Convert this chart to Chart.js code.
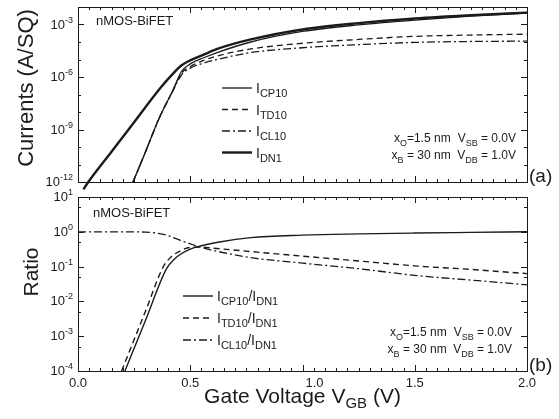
<!DOCTYPE html>
<html>
<head>
<meta charset="utf-8">
<title>nMOS-BiFET currents and ratios</title>
<script src="https://cdn.jsdelivr.net/npm/chart.js@4.4.1/dist/chart.umd.min.js"></script>
<style>
  body { margin: 0; background: #fff; }
  .fig { position: relative; width: 559px; height: 419px; }
  .fig canvas { position: absolute; left: 0; top: 0; }
</style>
</head>
<body>
<div class="fig">
  <canvas id="chart-a" width="559" height="419"></canvas>
  <canvas id="chart-b" width="559" height="419"></canvas>
</div>
<script>
// --- Panel (a): currents (A/SQ) vs gate voltage ---
const vDN1 = [0.024, 0.046, 0.15, 0.25, 0.365, 0.42, 0.46, 0.5, 0.56, 0.62, 0.77, 1.0, 1.25, 1.5, 1.75, 2.0];
const iDN1 = [3.8e-13, 1e-12, 5.5e-11, 2.6e-9, 2.2e-7, 1.4e-6, 4.5e-6, 8.9e-6, 1.9e-5, 4.0e-5, 1.4e-4, 5.2e-4, 1.2e-3, 2.2e-3, 3.4e-3, 4.8e-3];
const vDev = [0.245, 0.30, 0.36, 0.425, 0.46, 0.5, 0.56, 0.62, 0.77, 1.0, 1.25, 1.5, 1.75, 2.0];
const iCP10 = [1e-12, 5.0e-11, 4.0e-9, 2.0e-7, 2.0e-6, 5.6e-6, 1.26e-5, 2.5e-5, 1.0e-4, 4.0e-4, 9.5e-4, 1.8e-3, 3.0e-3, 4.5e-3];
const iTD10 = [1e-12, 5.0e-11, 4.0e-9, 2.0e-7, 1.6e-6, 4.0e-6, 8.9e-6, 1.6e-5, 4.0e-5, 8.5e-5, 1.4e-4, 2.1e-4, 2.5e-4, 2.8e-4];
const iCL10 = [1e-12, 5.0e-11, 4.0e-9, 1.8e-7, 1.26e-6, 3.2e-6, 6.3e-6, 1.0e-5, 2.5e-5, 4.7e-5, 7.1e-5, 9.5e-5, 1.07e-4, 1.12e-4];

// --- Panel (b): ratios to I_DN1 ---
const vRCP = [0.209, 0.30, 0.395, 0.43, 0.46, 0.5, 0.53, 0.63, 0.77, 1.0, 1.25, 1.5, 1.75, 2.0];
const rCP = [1e-4, 2.8e-3, 0.089, 0.166, 0.234, 0.316, 0.37, 0.51, 0.68, 0.8, 0.87, 0.92, 0.96, 1.0];
const vRTD = [0.194, 0.30, 0.38, 0.41, 0.44, 0.5, 0.55, 0.6, 0.77, 1.0, 1.25, 1.5, 1.75, 2.0];
const rTD = [1e-4, 5.1e-3, 0.1, 0.178, 0.25, 0.355, 0.363, 0.34, 0.27, 0.2, 0.145, 0.105, 0.083, 0.063];
const vRCL = [0.0, 0.2, 0.3, 0.35, 0.4, 0.454, 0.5, 0.56, 0.65, 0.77, 1.0, 1.25, 1.5, 1.75, 2.0];
const rCL = [1.0, 1.0, 0.98, 0.91, 0.78, 0.575, 0.45, 0.34, 0.25, 0.18, 0.126, 0.087, 0.056, 0.041, 0.03];

// tick labels
const xTickLabels = ['0.0', '0.5', '1.0', '1.5', '2.0'];
const aTickExp = [-12, -9, -6, -3];
const bTickExp = [-4, -3, -2, -1, 0, 1];
const aLegend = ['CP10', 'TD10', 'CL10', 'DN1'];
const bLegend = ['CP10', 'TD10', 'CL10'];

const FONT = '"Liberation Sans", Arial, sans-serif';
const INK = '#1b1b1b';
const DASH = [6, 4];
const DASHDOT = [8, 3, 2, 3];

const pts = (xs, ys) => xs.map((x, i) => ({ x, y: ys[i] }));

// draw a run of text pieces: [text, size, dy]
function rich(ctx, parts, x, y, align) {
    let w = 0;
    parts.forEach(p => { ctx.font = p[1] + 'px ' + FONT; w += ctx.measureText(p[0]).width; });
    let cx = align === 'right' ? x - w : align === 'center' ? x - w / 2 : x;
    parts.forEach(p => {
        ctx.font = p[1] + 'px ' + FONT;
        ctx.fillText(p[0], cx, y + (p[2] || 0));
        cx += ctx.measureText(p[0]).width;
    });
    return w;
}

function frameAndTicks(chart, yTicks) {
    const { ctx, chartArea: a, scales: { x, y } } = chart;
    ctx.strokeStyle = INK;
    ctx.lineWidth = 1;
    ctx.strokeRect(a.left + 0.5, a.top + 0.5, a.right - a.left, a.bottom - a.top);
    ctx.beginPath();
    for (let i = 0; i <= 40; i++) {
        const px = Math.round(x.getPixelForValue(i * 0.05)) + 0.5;
        const len = i % 10 === 0 ? 6 : 3;
        ctx.moveTo(px, a.bottom); ctx.lineTo(px, a.bottom - len);
        ctx.moveTo(px, a.top); ctx.lineTo(px, a.top + len);
    }
    yTicks.forEach(([v, major]) => {
        const py = Math.round(y.getPixelForValue(v)) + 0.5;
        const len = major ? 6 : 3;
        ctx.moveTo(a.left, py); ctx.lineTo(a.left + len, py);
        ctx.moveTo(a.right, py); ctx.lineTo(a.right - len, py);
    });
    ctx.stroke();
}

function expLabels(chart, exps) {
    const { ctx, chartArea: a, scales: { y } } = chart;
    exps.forEach(e => {
        const py = y.getPixelForValue(Math.pow(10, e));
        rich(ctx, [['10', 13], [String(e), 9, -6]], a.left - 5, py + 4, 'right');
    });
}

function legendLines(chart, x0, y0, step, labels, suffix) {
    const { ctx } = chart;
    chart.data.datasets.forEach((ds, i) => {
        const yy = y0 + i * step;
        ctx.save();
        ctx.strokeStyle = ds.borderColor;
        ctx.lineWidth = ds.borderWidth;
        ctx.setLineDash(ds.borderDash || []);
        ctx.beginPath();
        ctx.moveTo(x0, yy); ctx.lineTo(x0 + 30, yy);
        ctx.stroke();
        ctx.restore();
        const parts = [['I', 14], [labels[i], 11, 4]];
        if (suffix) parts.push(['/', 14], ['I', 14], ['DN1', 11, 4]);
        rich(ctx, parts, x0 + 34, yy + 5, 'left');
    });
}

// device conditions block, right edge of the V column at xr
function conditions(ctx, xr, y) {
    const f = 12, s = 9;
    const w1 = rich(ctx, [['V', f], ['SB', s, 4], [' = 0.0V', f]], xr, y, 'right');
    rich(ctx, [['V', f], ['DB', s, 4], [' = 1.0V', f]], xr, y + 17, 'right');
    const xl = xr - w1 - 7;
    rich(ctx, [['x', f], ['O', s, 4], ['=1.5 nm', f]], xl, y, 'right');
    rich(ctx, [['x', f], ['B', s, 4], [' = 30 nm', f]], xl, y + 17, 'right');
}

const decoA = {
    id: 'decoA',
    afterDatasetsDraw(chart) {
        const { ctx, chartArea: a } = chart;
        ctx.save();
        ctx.fillStyle = INK;
        const yt = [];
        for (let e = -12; e <= -2; e++) yt.push([Math.pow(10, e), aTickExp.includes(e)]);
        frameAndTicks(chart, yt);
        expLabels(chart, aTickExp);
        rich(ctx, [['nMOS-BiFET', 13]], a.left + 18, a.top + 18, 'left');
        legendLines(chart, 222, 88, 21.5, aLegend, false);
        conditions(ctx, 516, 142);
        rich(ctx, [['(a)', 19]], a.right + 2, 182, 'left');
        // y title
        ctx.save();
        ctx.translate(33, 88);
        ctx.rotate(-Math.PI / 2);
        rich(ctx, [['Currents (A/SQ)', 22]], 0, 0, 'center');
        ctx.restore();
        ctx.restore();
    }
};

const decoB = {
    id: 'decoB',
    afterDatasetsDraw(chart) {
        const { ctx, chartArea: a, scales: { x } } = chart;
        ctx.save();
        ctx.fillStyle = INK;
        const yt = [];
        for (let e = -4; e <= 1; e++) {
            yt.push([Math.pow(10, e), true]);
            if (e < 1) yt.push([5 * Math.pow(10, e), false]);
        }
        frameAndTicks(chart, yt);
        expLabels(chart, bTickExp);
        xTickLabels.forEach((t, i) => {
            const px = x.getPixelForValue(i * 0.5) + (t === '1.0' ? 12 : 0);
            rich(ctx, [[t, 13]], px, a.bottom + 16, 'center');
        });
        rich(ctx, [['nMOS-BiFET', 13]], a.left + 15, a.top + 20, 'left');
        legendLines(chart, 183, 296, 22, bLegend, true);
        conditions(ctx, 512, 336);
        rich(ctx, [['(b)', 19]], a.right + 2, 371, 'left');
        rich(ctx, [['Gate Voltage V', 21], ['GB', 15, 5], [' (V)', 21]], (a.left + a.right) / 2, 403, 'center');
        ctx.save();
        ctx.translate(38, 272);
        ctx.rotate(-Math.PI / 2);
        rich(ctx, [['Ratio', 21]], 0, 0, 'center');
        ctx.restore();
        ctx.restore();
    }
};

function line(data, width, dash, clip) {
    return {
        data, borderColor: INK, borderWidth: width, borderDash: dash,
        pointRadius: 0, fill: false, cubicInterpolationMode: 'monotone',
        clip: clip === false ? false : undefined
    };
}

function options(yMin, yMax, padding) {
    return {
        responsive: false,
        animation: false,
        layout: { padding },
        plugins: { legend: { display: false }, tooltip: { enabled: false } },
        scales: {
            x: { type: 'linear', min: 0, max: 2, display: false },
            y: { type: 'logarithmic', min: yMin, max: yMax, display: false }
        }
    };
}

new Chart(document.getElementById('chart-a'), {
    type: 'line',
    data: {
        datasets: [
            line(pts(vDev, iCP10), 1.3, []),
            line(pts(vDev, iTD10), 1.3, DASH),
            line(pts(vDev, iCL10), 1.3, DASHDOT),
            line(pts(vDN1, iDN1), 2.4, [], false)
        ]
    },
    options: options(1e-12, 1e-2, { left: 78, top: 7, right: 32, bottom: 237 }),
    plugins: [decoA]
});

new Chart(document.getElementById('chart-b'), {
    type: 'line',
    data: {
        datasets: [
            line(pts(vRCP, rCP), 1.4, []),
            line(pts(vRTD, rTD), 1.4, DASH),
            line(pts(vRCL, rCL), 1.3, DASHDOT)
        ]
    },
    options: options(1e-4, 10, { left: 78, top: 197, right: 32, bottom: 48 }),
    plugins: [decoB]
});
</script>
</body>
</html>
